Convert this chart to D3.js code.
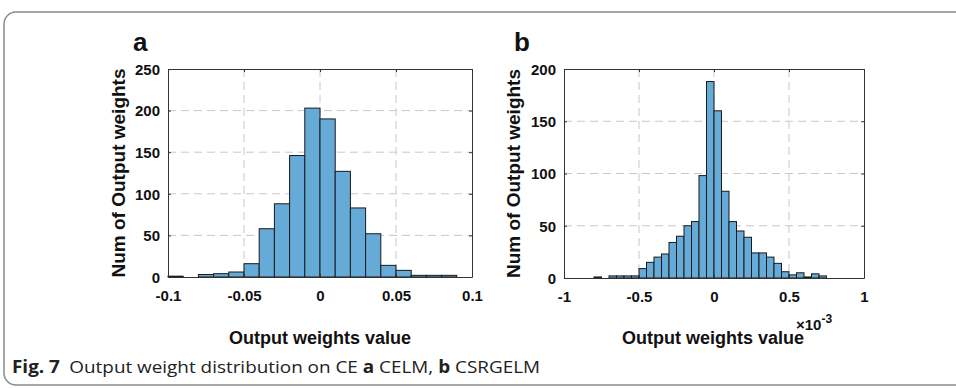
<!DOCTYPE html>
<html>
<head>
<meta charset="utf-8">
<script src="https://cdn.jsdelivr.net/npm/d3@7"></script>
<style>
  body { margin: 0; background: #fff; }
  svg { display: block; }
  text { font-family: "Liberation Sans", Arial, sans-serif; }
</style>
</head>
<body>
<svg width="956" height="388"></svg>
<script>
// panel a: CELM, bins of 0.01 starting at -0.1
var binStartA = [-0.1, -0.09, -0.08, -0.07, -0.06, -0.05, -0.04, -0.03, -0.02, -0.01,
                 0, 0.01, 0.02, 0.03, 0.04, 0.05, 0.06, 0.07, 0.08];
var countsA = [1, 0, 3, 4, 6, 16, 58, 88, 146, 203, 190, 127, 83, 52, 14, 8, 2, 2, 2];
var binWidthA = 0.01;
var xTicksA = [-0.1, -0.05, 0, 0.05, 0.1];
var yTicksA = [0, 50, 100, 150, 200, 250];

// panel b: CSRGELM, values in units of 1e-3, bins of 0.05
var binStartB = [-0.8, -0.75, -0.7, -0.65, -0.6, -0.55, -0.5, -0.45, -0.4, -0.35, -0.3,
                 -0.25, -0.2, -0.15, -0.1, -0.05, 0, 0.05, 0.1, 0.15, 0.2, 0.25, 0.3,
                 0.35, 0.4, 0.45, 0.5, 0.55, 0.6, 0.65, 0.7];
var countsB = [1, 0, 2, 2, 2, 2, 9, 15, 20, 23, 34, 40, 50, 54, 98, 188,
               160, 83, 54, 45, 39, 24, 24, 20, 14, 6, 3, 5, 1, 4, 2];
var binWidthB = 0.05;
var xTicksB = [-1, -0.5, 0, 0.5, 1];
var yTicksB = [0, 50, 100, 150, 200];

var svg = d3.select("svg");

// outer rounded frame
svg.append("rect")
  .attr("x", 4).attr("y", 12)
  .attr("width", 980).attr("height", 373)
  .attr("rx", 12)
  .attr("fill", "none")
  .attr("stroke", "#8a8a8a")
  .attr("stroke-width", 1.5);

// plain hyphen like the original figure, not unicode minus
var fmt = function(d) { return String(d); };

var drawPanel = function(opt)
{
  var x = d3.scaleLinear().domain(opt.xDomain).range([opt.left, opt.right]);
  var y = d3.scaleLinear().domain(opt.yDomain).range([opt.bottom, opt.top]);
  var g = svg.append("g");

  // dashed grid
  g.selectAll(".gx").data(opt.xTicks.slice(1, -1)).enter()
    .append("line")
    .attr("x1", d => x(d)).attr("x2", d => x(d))
    .attr("y1", opt.top).attr("y2", opt.bottom)
    .attr("stroke", "#c8c8c8").attr("stroke-dasharray", "8,5");
  g.selectAll(".gy").data(opt.yTicks.slice(1, -1)).enter()
    .append("line")
    .attr("x1", opt.left).attr("x2", opt.right)
    .attr("y1", d => y(d)).attr("y2", d => y(d))
    .attr("stroke", "#c8c8c8").attr("stroke-dasharray", "8,5");

  // bars
  g.selectAll(".bar").data(opt.starts).enter()
    .append("rect")
    .attr("x", d => x(d))
    .attr("width", d => x(d + opt.binWidth) - x(d))
    .attr("y", (d, i) => y(opt.counts[i]))
    .attr("height", (d, i) => y(0) - y(opt.counts[i]))
    .attr("fill", "#66aad7")
    .attr("stroke", "#1a1a1a")
    .attr("stroke-width", 1);

  // axes (MATLAB-style box with inward ticks)
  g.append("g").attr("transform", "translate(0," + opt.bottom + ")")
    .call(d3.axisBottom(x).tickValues(opt.xTicks).tickSizeInner(-3).tickSizeOuter(0)
      .tickPadding(13).tickFormat(fmt));
  var ay = g.append("g").attr("transform", "translate(" + opt.left + ",0)")
    .call(d3.axisLeft(y).tickValues(opt.yTicks).tickSizeInner(-3).tickSizeOuter(0)
      .tickPadding(8).tickFormat(fmt));
  g.append("g").attr("transform", "translate(0," + opt.top + ")")
    .call(d3.axisTop(x).tickValues(opt.xTicks).tickSizeInner(-3).tickSizeOuter(0).tickFormat(""));
  g.append("g").attr("transform", "translate(" + opt.right + ",0)")
    .call(d3.axisRight(y).tickValues(opt.yTicks).tickSizeInner(-3).tickSizeOuter(0).tickFormat(""));

  g.selectAll(".domain").attr("stroke", "#333").attr("stroke-width", 1);
  g.selectAll(".tick line").attr("stroke", "#333");
  g.selectAll(".tick text")
    .attr("fill", "#111")
    .style("font-size", "15px")
    .style("font-weight", "bold");
  ay.selectAll(".tick text").attr("dy", "0.35em");

  // axis titles
  g.append("text")
    .attr("x", (opt.left + opt.right) / 2 + opt.xTitleShift)
    .attr("y", 344)
    .attr("text-anchor", "middle")
    .style("font-size", "18px").style("font-weight", "bold").attr("fill", "#111")
    .text("Output weights value");
  g.append("text")
    .attr("transform", "translate(" + opt.yTitleX + "," + (opt.top + opt.bottom) / 2 + ") rotate(-90)")
    .attr("text-anchor", "middle")
    .style("font-size", "19px").style("font-weight", "bold").attr("fill", "#111")
    .text("Num of Output weights");

  // panel letter
  g.append("text")
    .attr("x", opt.letterX).attr("y", 51)
    .style("font-size", "26px").style("font-weight", "bold").attr("fill", "#111")
    .text(opt.letter);
  return g;
}

drawPanel({
  left: 168, right: 472, top: 69, bottom: 277,
  xDomain: [-0.1, 0.1], yDomain: [0, 250],
  xTicks: xTicksA, yTicks: yTicksA,
  starts: binStartA, counts: countsA, binWidth: binWidthA,
  yTitleX: 125, xTitleShift: 0, letter: "a", letterX: 133
});

var gb = drawPanel({
  left: 564, right: 864, top: 69, bottom: 278,
  xDomain: [-1, 1], yDomain: [0, 200],
  xTicks: xTicksB, yTicks: yTicksB,
  starts: binStartB, counts: countsB, binWidth: binWidthB,
  yTitleX: 520, xTitleShift: -1, letter: "b", letterX: 514
});

// exponent label
var ex = gb.append("text").attr("x", 796).attr("y", 330)
  .style("font-size", "15px").style("font-weight", "bold").attr("fill", "#111");
ex.append("tspan").text("\u00d710");
ex.append("tspan").attr("dy", -7).style("font-size", "12px").text("-3");

// caption
var cap = svg.append("text").attr("x", 12).attr("y", 373)
  .attr("textLength", 528).attr("lengthAdjust", "spacingAndGlyphs")
  .style("font-family", "'Open Sans', 'Noto Sans', sans-serif")
  .style("font-size", "17px").attr("fill", "#222");
cap.append("tspan").style("font-weight", "bold").text("Fig. 7");
cap.append("tspan").text("\u2002Output weight distribution on CE ");
cap.append("tspan").style("font-weight", "bold").text("a");
cap.append("tspan").text(" CELM, ");
cap.append("tspan").style("font-weight", "bold").text("b");
cap.append("tspan").text(" CSRGELM");
</script>
</body>
</html>
